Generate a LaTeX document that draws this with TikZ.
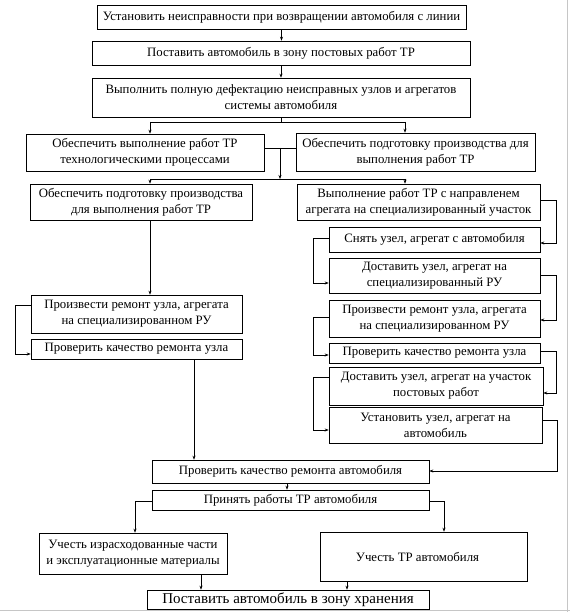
\documentclass[tikz,border=0pt]{standalone}
\usepackage{fontspec}
\setmainfont{Liberation Serif}
\usetikzlibrary{arrows.meta}
\begin{document}
\begin{tikzpicture}[x=1pt,y=-1pt,
  box/.style={draw,line width=0.6pt,inner sep=0pt,align=center,
    font=\fontsize{12.8}{15.8}\selectfont},
  ln/.style={line width=0.6pt},
  arr/.style={line width=0.6pt,-{Stealth[length=4pt,width=3pt]}}]
\useasboundingbox (0,0) rectangle (570,612);
% boxes
\node[box,minimum width=369pt,minimum height=24pt] (b1) at (281.5,17) {Установить неисправности при возвращении автомобиля с линии};
\node[box,minimum width=378pt,minimum height=24pt] (b2) at (281,53) {Поставить автомобиль в зону постовых работ ТР};
\node[box,minimum width=378pt,minimum height=39pt] (b3) at (281,97.5) {Выполнить полную дефектацию неисправных узлов и агрегатов\\ системы автомобиля};
\node[box,minimum width=238pt,minimum height=37pt] (b4) at (145,152.5) {Обеспечить выполнение работ ТР\\ технологическими процессами};
\node[box,minimum width=239pt,minimum height=38pt] (b5) at (415.5,152) {Обеспечить подготовку производства для\\ выполнения работ ТР};
\node[box,minimum width=222pt,minimum height=36pt] (b6) at (141,202) {Обеспечить подготовку производства\\ для выполнения работ ТР};
\node[box,minimum width=243pt,minimum height=36pt] (b7) at (418.5,202) {Выполнение работ ТР с направленем\\ агрегата на специализированный участок};
\node[box,minimum width=211pt,minimum height=38pt] (b8) at (136.5,314) {Произвести ремонт узла, агрегата\\ на специализированном РУ};
\node[box,minimum width=211pt,minimum height=20pt] (b9) at (136.5,349) {Проверить качество ремонта узла};
\node[box,minimum width=211pt,minimum height=25pt] (r1) at (434.5,239.5) {Снять узел, агрегат с автомобиля};
\node[box,minimum width=211pt,minimum height=35pt] (r2) at (434.5,275.5) {Доставить узел, агрегат на\\ специализированный РУ};
\node[box,minimum width=211pt,minimum height=37pt] (r3) at (434.5,318.5) {Произвести ремонт узла, агрегата\\ на специализированном РУ};
\node[box,minimum width=211pt,minimum height=20pt] (r4) at (434.5,353) {Проверить качество ремонта узла};
\node[box,minimum width=214pt,minimum height=38pt] (r5) at (436,386) {Доставить узел, агрегат на участок\\ постовых работ};
\node[box,minimum width=213pt,minimum height=36pt] (r6) at (435.5,425) {Установить узел, агрегат на\\ автомобиль};
\node[box,minimum width=277pt,minimum height=23pt] (b10) at (290.5,471.5) {Проверить качество ремонта автомобиля};
\node[box,minimum width=277pt,minimum height=20pt] (b11) at (290.5,500) {Принять работы ТР автомобиля};
\node[box,minimum width=188pt,minimum height=41pt] (b12) at (133,553.5) {Учесть израсходованные части\\ и эксплуатационные материалы};
\node[box,minimum width=207pt,minimum height=49pt] (b13) at (423.5,556.5) {Учесть ТР автомобиля\hspace*{12pt}};
\node[box,minimum width=282pt,minimum height=19pt,font=\fontsize{15}{18}\selectfont] (b14) at (288,599.5) {Поставить автомобиль в зону хранения};
% coordinates
\coordinate (bus1) at (281,122);
\coordinate (bus1L) at (150,122);
\coordinate (bus1R) at (405,122);
\coordinate (j45) at (280,148);
\coordinate (bus2) at (280,179);
\coordinate (bus2L) at (150,179);
\coordinate (bus2R) at (405,179);
\coordinate (lpA) at (15,305);
\coordinate (lpB) at (15,354);
\coordinate (c9) at (194,0);
\coordinate (ra) at (556,200);
\coordinate (rb) at (556,243);
\coordinate (la1) at (313,238);
\coordinate (la2) at (313,283);
\coordinate (rc) at (556,275);
\coordinate (rd) at (556,320);
\coordinate (lb1) at (313,317);
\coordinate (lb2) at (313,355);
\coordinate (re) at (556,351);
\coordinate (rf) at (556,393);
\coordinate (lc1) at (313,377);
\coordinate (lc2) at (313,430);
\coordinate (rg) at (557,420);
\coordinate (rh) at (557,471);
\coordinate (c10) at (287,0);
\coordinate (ka) at (135,501);
\coordinate (kb) at (444,501);
\coordinate (c12) at (201,0);
\coordinate (c13) at (347,0);
% connectors
\draw[arr] (b1.south) -- (b1.south |- b2.north);
\draw[arr] (b2.south) -- (b2.south |- b3.north);
\draw[ln] (b3.south) -- (bus1);
\draw[ln] (bus1L) -- (bus1R);
\draw[arr] (bus1L) -- (bus1L |- b4.north);
\draw[arr] (bus1R) -- (bus1R |- b5.north);
\draw[ln] (b4.east |- j45) -- (b5.west |- j45);
\draw[arr] (j45) -- (bus2);
\draw[ln] (bus2L) -- (bus2R);
\draw[arr] (bus2L) -- (bus2L |- b6.north);
\draw[arr] (bus2R) -- (bus2R |- b7.north);
\draw[arr] (b6.south -| bus2L) -- (bus2L |- b8.north);
\draw[arr] (b8.west |- lpA) -- (lpA) -- (lpB) -- (b9.west |- lpB);
\draw[arr] (b9.south -| c9) -- (b10.north -| c9);
\draw[arr] (b7.east |- ra) -- (ra) -- (rb) -- (r1.east |- rb);
\draw[arr] (r1.west |- la1) -- (la1) -- (la2) -- (r2.west |- la2);
\draw[arr] (r2.east |- rc) -- (rc) -- (rd) -- (r3.east |- rd);
\draw[arr] (r3.west |- lb1) -- (lb1) -- (lb2) -- (r4.west |- lb2);
\draw[arr] (r4.east |- re) -- (re) -- (rf) -- (r5.east |- rf);
\draw[arr] (r5.west |- lc1) -- (lc1) -- (lc2) -- (r6.west |- lc2);
\draw[arr] (r6.east |- rg) -- (rg) -- (rh) -- (b10.east |- rh);
\draw[arr] (b10.south -| c10) -- (b11.north -| c10);
\draw[arr] (b11.west |- ka) -- (ka) -- (ka |- b12.north);
\draw[arr] (b11.east |- kb) -- (kb) -- (kb |- b13.north);
\draw[arr] (b12.south -| c12) -- (b14.north -| c12);
\draw[arr] (b13.south -| c13) -- (b14.north -| c13);
% page edges
\draw[gray!45,line width=0.8pt] (567.5,0) -- (567.5,612);
\draw[gray!45,line width=0.8pt] (0,610.5) -- (570,610.5);
\end{tikzpicture}
\end{document}
